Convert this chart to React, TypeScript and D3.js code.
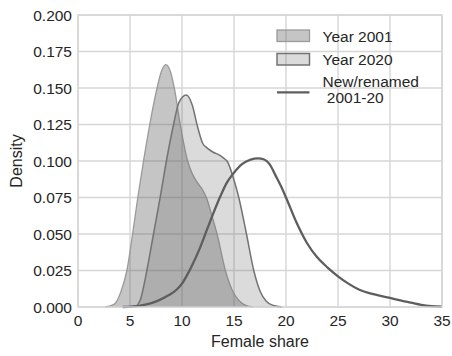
import React from "react";
import * as d3 from "d3";

// Density estimates of female share, read as (share, density) pairs
const year2001X = [2.6, 3.5, 4.1, 4.7, 5.25, 5.75, 6.3, 6.9, 7.6, 8.0, 8.45, 8.9, 9.26, 9.83, 10.54, 11.0, 11.5, 12.0, 12.34, 12.9, 13.37, 14.17, 14.8, 15.4, 16.0, 16.8];
const year2001Y = [0, 0.002, 0.01, 0.025, 0.05, 0.075, 0.1, 0.125, 0.15, 0.161, 0.166, 0.161, 0.15, 0.125, 0.1, 0.091, 0.085, 0.08, 0.075, 0.062, 0.05, 0.025, 0.012, 0.005, 0.0015, 0];

const year2020X = [5.5, 6.0, 6.62, 7.26, 7.9, 8.5, 9.19, 9.7, 10.41, 11.0, 11.44, 12.0, 12.4, 13.0, 13.6, 14.0, 14.33, 15.0, 15.46, 16.2, 16.9, 17.5, 18.1, 18.8, 19.6];
const year2020Y = [0, 0.005, 0.025, 0.05, 0.075, 0.1, 0.125, 0.14, 0.1452, 0.138, 0.125, 0.112, 0.109, 0.106, 0.104, 0.102, 0.1, 0.087, 0.075, 0.05, 0.025, 0.011, 0.004, 0.001, 0];

const newRenamedX = [4.3, 6, 7.6, 8.7, 9.5, 10, 10.5, 11, 11.7, 12.4, 13.0, 13.7, 14.3, 15.0, 15.8, 16.6, 17.3, 17.9, 18.4, 19.0, 19.5, 20, 21, 22, 23, 24, 25, 26, 27, 28, 29, 30, 31, 32, 33, 34, 35];
const newRenamedY = [0, 0.001, 0.004, 0.008, 0.012, 0.016, 0.022, 0.029, 0.04, 0.053, 0.064, 0.076, 0.085, 0.092, 0.098, 0.101, 0.1018, 0.101, 0.098, 0.09, 0.083, 0.075, 0.058, 0.044, 0.034, 0.027, 0.021, 0.016, 0.012, 0.0095, 0.0078, 0.0062, 0.0045, 0.003, 0.0015, 0.0006, 0.0002];

const xTicks = [0, 5, 10, 15, 20, 25, 30, 35];
const yTicks = [0, 0.025, 0.05, 0.075, 0.1, 0.125, 0.15, 0.175, 0.2];
const legendLabels = ["Year 2001", "Year 2020", "New/renamed", " 2001-20"];

const W = 452;
const H = 356;
const margin = { left: 78, right: 10, top: 15, bottom: 49 };
const FONT = "'Liberation Sans', Arial, sans-serif";
const TEXT = "#262626";
const GRID = "#d6d6d6";

type Pt = [number, number];
const zip = (xs: number[], ys: number[]): Pt[] => xs.map((x, i) => [x, ys[i]]);

export default function App() {
  const x = d3.scaleLinear().domain([0, 35]).range([margin.left, W - margin.right]);
  const y = d3.scaleLinear().domain([0, 0.2]).range([H - margin.bottom, margin.top]);

  const area = d3
    .area<Pt>()
    .x((d) => x(d[0]))
    .y0(y(0))
    .y1((d) => y(d[1]))
    .curve(d3.curveMonotoneX);
  const line = d3
    .line<Pt>()
    .x((d) => x(d[0]))
    .y((d) => y(d[1]))
    .curve(d3.curveMonotoneX);

  const d2001 = zip(year2001X, year2001Y);
  const d2020 = zip(year2020X, year2020Y);
  const dNew = zip(newRenamedX, newRenamedY);

  const [x0, x1] = x.range();
  const [y0, y1] = y.range();

  const lx = 277;
  const lw = 32.5;
  const tx = 322.5;

  return (
    <svg
      width={W}
      height={H}
      style={{ position: "absolute", left: 0, top: 0, background: "#fff" }}
      fontFamily={FONT}
    >
      {/* grid */}
      {xTicks.map((t) => (
        <line key={"gx" + t} x1={x(t)} x2={x(t)} y1={y1} y2={y0} stroke={GRID} strokeWidth={1.4} />
      ))}
      {yTicks.map((t) => (
        <line key={"gy" + t} x1={x0} x2={x1} y1={y(t)} y2={y(t)} stroke={GRID} strokeWidth={1.4} />
      ))}

      {/* densities */}
      <path d={area(d2001) ?? ""} fill="#5a5a5a" fillOpacity={0.35} stroke="none" />
      <path d={line(d2001) ?? ""} fill="none" stroke="#9a9a9a" strokeWidth={1.3} />
      <path d={area(d2020) ?? ""} fill="#656565" fillOpacity={0.23} stroke="none" />
      <path d={line(d2020) ?? ""} fill="none" stroke="#737373" strokeWidth={1.5} />
      <path d={line(dNew) ?? ""} fill="none" stroke="#5e5e5e" strokeWidth={2.3} />

      {/* frame */}
      <rect x={x0} y={y1} width={x1 - x0} height={y0 - y1} fill="none" stroke={GRID} strokeWidth={1.4} />

      {/* tick labels */}
      {xTicks.map((t) => (
        <text key={"tx" + t} x={x(t)} y={y0 + 19} textAnchor="middle" fontSize={15.5} fill={TEXT}>
          {t}
        </text>
      ))}
      {yTicks.map((t) => (
        <text key={"ty" + t} x={x0 - 6} y={y(t) + 5.5} textAnchor="end" fontSize={15.5} fill={TEXT}>
          {t.toFixed(3)}
        </text>
      ))}

      {/* axis titles */}
      <text x={(x0 + x1) / 2} y={347} textAnchor="middle" fontSize={16} fill={TEXT}>
        Female share
      </text>
      <text
        transform={`translate(22,${(y0 + y1) / 2}) rotate(-90)`}
        textAnchor="middle"
        fontSize={16}
        fill={TEXT}
      >
        Density
      </text>

      {/* legend */}
      <rect x={lx} y={30} width={lw} height={11.5} fill="#5a5a5a" fillOpacity={0.35} stroke="#9a9a9a" strokeWidth={1.3} />
      <rect x={lx} y={53.5} width={lw} height={11.5} fill="#656565" fillOpacity={0.23} stroke="#737373" strokeWidth={1.5} />
      <line x1={lx} x2={lx + lw} y1={92.3} y2={92.3} stroke="#5e5e5e" strokeWidth={2.3} />
      <text x={tx} y={41.7} fontSize={15.5} fill={TEXT}>{legendLabels[0]}</text>
      <text x={tx} y={65} fontSize={15.5} fill={TEXT}>{legendLabels[1]}</text>
      <text x={tx} y={87.3} fontSize={15.5} fill={TEXT}>{legendLabels[2]}</text>
      <text x={tx} y={103.3} fontSize={15.5} fill={TEXT} style={{ whiteSpace: "pre" }}>{legendLabels[3]}</text>
    </svg>
  );
}
